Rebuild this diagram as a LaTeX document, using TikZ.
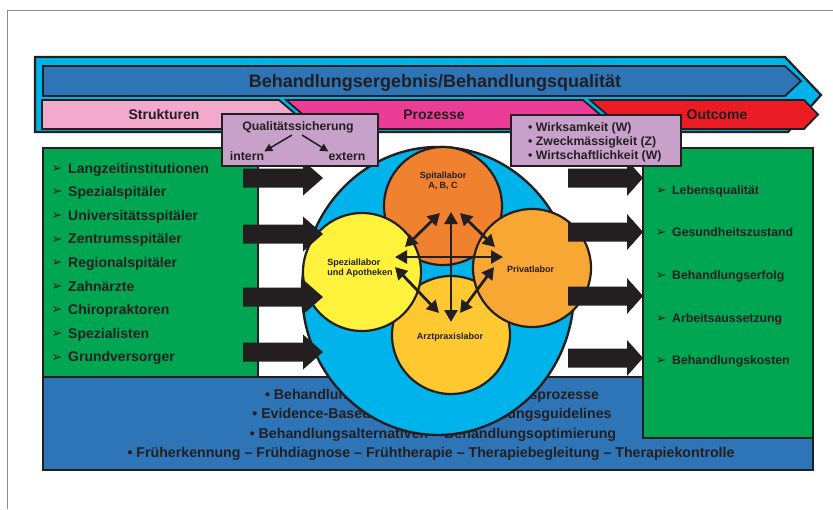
\documentclass[tikz,border=0pt]{standalone}
\usepackage{fontspec}
\setmainfont{Liberation Sans}
\newfontfamily\symfont{DejaVu Sans}
\usetikzlibrary{arrows.meta}

\definecolor{ink}{HTML}{231F20}
\definecolor{bandcyan}{HTML}{00B4EB}
\definecolor{titleblue}{HTML}{2E75B8}
\definecolor{strpink}{HTML}{F2A9CC}
\definecolor{promag}{HTML}{EC3D96}
\definecolor{outred}{HTML}{EC1C24}
\definecolor{lilac}{HTML}{C8A1CB}
\definecolor{boxgreen}{HTML}{00A651}
\definecolor{spitalor}{HTML}{F0822F}
\definecolor{privator}{HTML}{F8A634}
\definecolor{arztgold}{HTML}{FDC830}
\definecolor{spezyel}{HTML}{FFF23C}
\definecolor{framegray}{HTML}{8C8C8C}

\newcommand\fsz[1]{\fontsize{#1}{#1}\selectfont\bfseries}

\begin{document}
\begin{tikzpicture}[x=1pt,y=-1pt,
  outline/.style={draw=ink,line width=1.8pt,line join=miter},
  txt/.style={inner sep=0pt,text=ink,text depth=0pt},
  titletxt/.style={txt,font=\fsz{18},text height=13pt},
  bandtxt/.style={txt,font=\fsz{14},text height=10pt},
  boxtxt/.style={txt,font=\fsz{12.3},text height=8.8pt},
  leftitem/.style={txt,anchor=west,font=\fsz{14},text height=10pt},
  rightitem/.style={txt,anchor=west,font=\fsz{12.3},text height=8.8pt},
  bullet/.style={txt,font=\symfont\bfseries\fontsize{13}{13}\selectfont,text height=8.5pt},
  bottomtxt/.style={txt,font=\fsz{14.2},text height=10pt},
  labtxt/.style={inner sep=0pt,text=ink,font=\fontsize{9}{10.5}\selectfont\bfseries},
  lab/.style={circle,outline,line width=2.2pt,minimum size=118pt,inner sep=0pt},
  qualbox/.style={rectangle,outline,fill=lilac,inner sep=0pt,anchor=north west},
  twoway/.style={ink,line width=2.8pt,{Triangle[length=12pt,width=13pt]}-{Triangle[length=12pt,width=13pt]}},
  oneway/.style={ink,line width=1.5pt,-{Triangle[length=8pt,width=8pt]}},
  larrow/.pic={\fill[ink] (0,-9.5) -- (60,-9.5) -- (60,-17.5) -- (80,0) -- (60,17.5) -- (60,9.5) -- (0,9.5) -- cycle;},
  rarrow/.pic={\fill[ink] (0,-9.5) -- (59,-9.5) -- (59,-18) -- (75,0) -- (59,18) -- (59,9.5) -- (0,9.5) -- cycle;}
]
\useasboundingbox (0,0) rectangle (833,509);

% page frame
\draw[framegray,line width=0.8pt] (7,509) -- (7,10) -- (833,10);

% outcome band with its chevrons
\draw[outline,line width=2.2pt,fill=bandcyan] (35,57) -- (785,57) -- (821,95) -- (788,132) -- (35,132) -- cycle;
\draw[outline,fill=titleblue] (43,66) -- (785,66) -- (801,81) -- (785,96) -- (43,96) -- cycle;
\draw[outline,fill=strpink] (42,100) -- (279,100) -- (296,114.5) -- (279,129) -- (42,129) -- cycle;
\draw[outline,fill=promag] (286,100) -- (583,100) -- (600,114.5) -- (583,129) -- (286,129) -- (303,114.5) -- cycle;
\draw[outline,fill=outred] (590,100) -- (804,100) -- (818,114.5) -- (804,129) -- (590,129) -- (607,114.5) -- cycle;
\node[titletxt] (title) at (435,81) {Behandlungsergebnis/Behandlungsqualität};
\node[bandtxt] (struk) at (164,114.5) {Strukturen};
\node[bandtxt] (proz) at (434,114.5) {Prozesse};
\node[bandtxt] (outc) at (717,114.5) {Outcome};

% panels
\fill[white] (258,148) rectangle (643,377);
\draw[outline,fill=boxgreen] (43,148) rectangle (258,377);
\draw[outline,fill=titleblue] (43,377) rectangle (813,470);
\draw[outline,fill=boxgreen] (643,148) rectangle (813,438);

% structures
\foreach \t [count=\i] in {Langzeitinstitutionen,Spezialspitäler,Universitätsspitäler,Zentrumsspitäler,Regionalspitäler,Zahnärzte,Chiropraktoren,Spezialisten,Grundversorger}{
  \node[bullet] (lb\i) at (57,{168+23.6*(\i-1)}) {➢};
  \node[leftitem] (li\i) at (68,{168+23.6*(\i-1)}) {\t};
}

% outcomes
\foreach \t/\yy [count=\i] in {Lebensqualität/190,Gesundheitszustand/232,Behandlungserfolg/275,Arbeitsaussetzung/318,Behandlungskosten/360}{
  \node[bullet] (rb\i) at (661,\yy) {➢};
  \node[rightitem] (ri\i) at (672,\yy) {\t};
}

% process lines
\node[bottomtxt] (p1) at (432,394) {• Behandlungsstandards – Behandlungsprozesse};
\node[bottomtxt] (p2) at (432,413) {• Evidence-Based Medicine – Behandlungsguidelines};
\node[bottomtxt] (p3) at (433,433) {• Behandlungsalternativen – Behandlungsoptimierung};
\node[bottomtxt] (p4) at (431,452) {• Früherkennung – Frühdiagnose – Frühtherapie – Therapiebegleitung – Therapiekontrolle};

% laboratory circles
\draw[outline,line width=2.4pt,fill=bandcyan] (438,291) ellipse [x radius=136, y radius=144];
\node[lab,fill=spitalor] (spital) at (443,206) {};
\node[lab,fill=arztgold] (arzt) at (451,335) {};
\node[lab,fill=spezyel] (spez) at (362,272) {};
\node[lab,fill=privator] (privat) at (532,268) {};
\node[labtxt,align=center] (spitaltxt) at (443,181) {Spitallabor\\A, B, C};
\node[labtxt,align=left] (speztxt) at (360,268) {Speziallabor\\und Apotheken};
\node[labtxt,anchor=west,text height=6.5pt,text depth=0pt] (privattxt) at (507,269) {Privatlabor};
\node[labtxt,text height=6.5pt,text depth=0pt] (arzttxt) at (450,336) {Arztpraxislabor};

% links between the laboratories
\coordinate (vt) at (451,212);
\coordinate (vb) at (451,322);
\coordinate (hl) at (395,257);
\coordinate (hr) at (503,257);
\coordinate (ula) at (405,247);
\coordinate (ulb) at (440,213);
\coordinate (ura) at (460,213);
\coordinate (urb) at (495,247);
\coordinate (lla) at (395,267);
\coordinate (llb) at (439,313);
\coordinate (lra) at (460,313);
\coordinate (lrb) at (494,267);
\draw[twoway] (vt) -- (vb);
\draw[twoway] (hl) -- (hr);
\draw[twoway] (ula) -- (ulb);
\draw[twoway] (ura) -- (urb);
\draw[twoway] (lla) -- (llb);
\draw[twoway] (lra) -- (lrb);

% block arrows
\foreach \yy in {178,234,297,352} \pic at (243,\yy) {larrow};
\foreach \yy in {178,232,296,358} \pic at (568,\yy) {rarrow};

% quality assurance
\node[qualbox,minimum width=156pt,minimum height=52pt] (qs) at (221,113) {};
\node[boxtxt] (qstitle) at (298,126) {Qualitätssicherung};
\node[boxtxt] (intern) at (247,156) {intern};
\node[boxtxt] (extern) at (347,156) {extern};
\coordinate (qsl) at (292,135);
\coordinate (qsr) at (302,135);
\draw[oneway] (qsl) -- (intern.north east);
\draw[oneway] (qsr) -- (extern.north west);

% WZW criteria
\node[qualbox,minimum width=170pt,minimum height=51pt] (wzw) at (510,114) {};
\node[boxtxt,anchor=west] (w1) at (528,127) {• Wirksamkeit (W)};
\node[boxtxt,anchor=west] (w2) at (528,141) {• Zweckmässigkeit (Z)};
\node[boxtxt,anchor=west] (w3) at (528,155) {• Wirtschaftlichkeit (W)};
\end{tikzpicture}
\end{document}
